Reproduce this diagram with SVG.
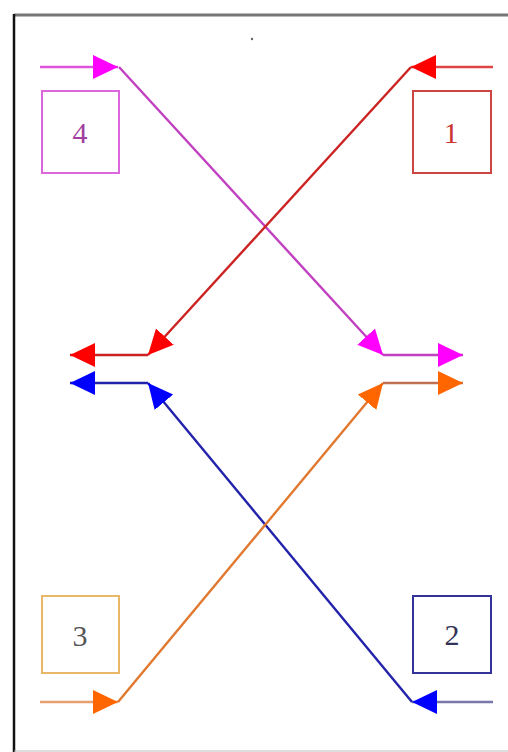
<svg xmlns="http://www.w3.org/2000/svg" width="508" height="752" viewBox="0 0 508 752">
<style>
.box{fill:none;stroke-width:2}
.lbl{font-family:"Liberation Serif","Times New Roman",serif;font-size:30px;text-anchor:middle}
.seg{fill:none;stroke-width:2.4}
</style>
<defs>
<marker id="hm" markerUnits="userSpaceOnUse" markerWidth="26" markerHeight="26" refX="25" refY="12" orient="auto" viewBox="0 0 26 24"><path d="M0,0 L25,12 L0,24 Z" fill="#ff00ff"/></marker>
<marker id="hr" markerUnits="userSpaceOnUse" markerWidth="26" markerHeight="26" refX="25" refY="12" orient="auto" viewBox="0 0 26 24"><path d="M0,0 L25,12 L0,24 Z" fill="#ff0000"/></marker>
<marker id="hb" markerUnits="userSpaceOnUse" markerWidth="26" markerHeight="26" refX="25" refY="12" orient="auto" viewBox="0 0 26 24"><path d="M0,0 L25,12 L0,24 Z" fill="#0000ff"/></marker>
<marker id="ho" markerUnits="userSpaceOnUse" markerWidth="26" markerHeight="26" refX="25" refY="12" orient="auto" viewBox="0 0 26 24"><path d="M0,0 L25,12 L0,24 Z" fill="#ff6600"/></marker>
</defs>
<rect width="508" height="752" fill="#ffffff"/>
<g id="frame">
<line x1="14" y1="15" x2="508" y2="15" stroke="#777777" stroke-width="3"/>
<line x1="14" y1="14" x2="14" y2="752" stroke="#111111" stroke-width="2.5"/>
<line x1="14" y1="751" x2="508" y2="751" stroke="#bbbbbb" stroke-width="1"/>
<circle cx="252" cy="39" r="1.2" fill="#666666"/>
</g>
<g id="node4">
<rect class="box" x="42" y="91" width="77" height="82" stroke="#dd66dd"/>
<text class="lbl" x="80" y="143" fill="#a040a0">4</text>
</g>
<g id="node1">
<rect class="box" x="413" y="91" width="78" height="82" stroke="#cc4444"/>
<text class="lbl" x="451" y="143" fill="#cc3333">1</text>
</g>
<g id="node3">
<rect class="box" x="42" y="596" width="77" height="77" stroke="#e8b868"/>
<text class="lbl" x="80" y="646" fill="#555555">3</text>
</g>
<g id="node2">
<rect class="box" x="413" y="596" width="78" height="77" stroke="#333399"/>
<text class="lbl" x="452" y="645" fill="#333355">2</text>
</g>
<g id="connectors">
<g id="c4">
<path class="seg" d="M40,67 L118,67" stroke="#dd55dd" marker-end="url(#hm)"/>
<path class="seg" d="M119,67 L383,355" stroke="#c040c0" marker-end="url(#hm)"/>
<path class="seg" d="M383,355 L463,355" stroke="#c040c0" marker-end="url(#hm)"/>
</g>
<g id="c1">
<path class="seg" d="M493,67 L411,67" stroke="#dd4444" marker-end="url(#hr)"/>
<path class="seg" d="M411,67 L148,355" stroke="#cc2222" marker-end="url(#hr)"/>
<path class="seg" d="M148,355 L70,355" stroke="#cc2222" marker-end="url(#hr)"/>
</g>
<g id="c2">
<path class="seg" d="M493,702 L412,702" stroke="#7777aa" marker-end="url(#hb)"/>
<path class="seg" d="M412,702 L148,383" stroke="#2222aa" marker-end="url(#hb)"/>
<path class="seg" d="M148,383 L70,383" stroke="#2222aa" marker-end="url(#hb)"/>
</g>
<g id="c3">
<path class="seg" d="M40,702 L118,702" stroke="#e8a070" marker-end="url(#ho)"/>
<path class="seg" d="M118,702 L383,383" stroke="#e07830" marker-end="url(#ho)"/>
<path class="seg" d="M383,383 L463,383" stroke="#c07050" marker-end="url(#ho)"/>
</g>
</g>
</svg>
